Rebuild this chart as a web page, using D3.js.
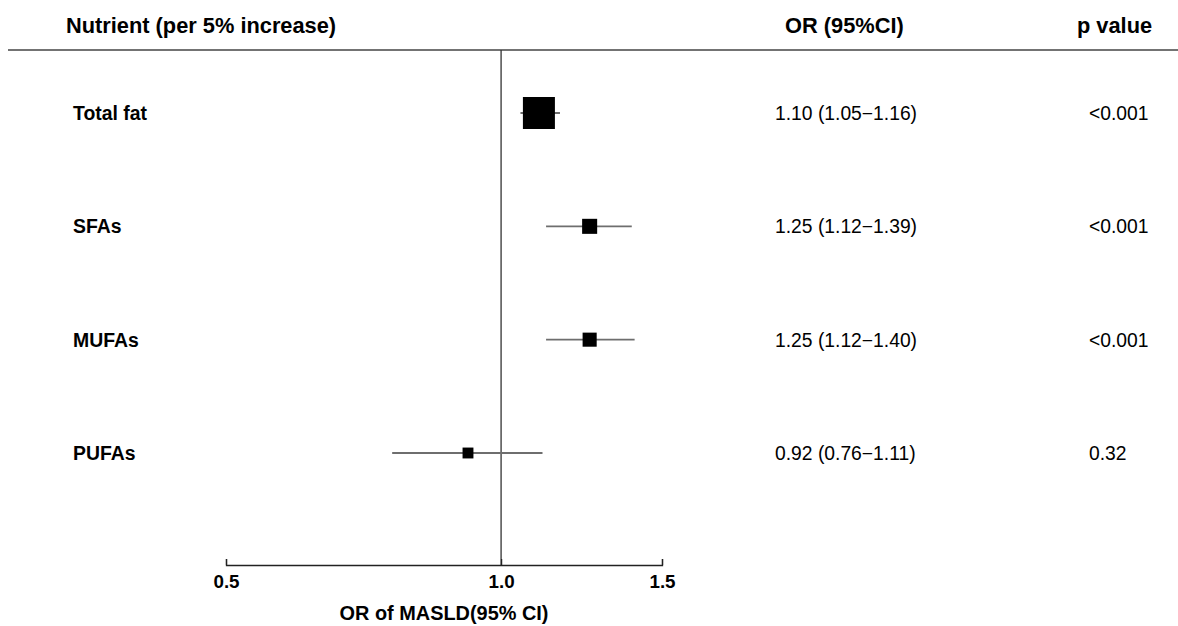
<!DOCTYPE html>
<html>
<head>
<meta charset="utf-8">
<script src="https://cdn.jsdelivr.net/npm/d3@7/dist/d3.min.js"></script>
<style>
  html, body { margin: 0; padding: 0; background: #fff; }
  svg { display: block; font-family: "Liberation Sans", Arial, sans-serif; }
</style>
</head>
<body>
<svg id="chart" width="1178" height="626"></svg>
<script>
// ---- data ----
const categories = ["Total fat", "SFAs", "MUFAs", "PUFAs"];
const orValues   = [1.10, 1.25, 1.25, 0.92];
const ciLower    = [1.05, 1.12, 1.12, 0.76];
const ciUpper    = [1.16, 1.39, 1.40, 1.11];
const orLabels   = ["1.10 (1.05\u22121.16)", "1.25 (1.12\u22121.39)", "1.25 (1.12\u22121.40)", "0.92 (0.76\u22121.11)"];
const pLabels    = ["<0.001", "<0.001", "<0.001", "0.32"];
const boxWeight  = [1.0, 0.47, 0.44, 0.34];
const tickValues = [0.5, 1.0, 1.5];
const headers    = ["Nutrient (per 5% increase)", "OR (95%CI)", "p value"];
const axisTitle  = "OR of MASLD(95% CI)";

// ---- layout ----
const W = 1178, H = 626;
const svg = d3.select("#chart");
const headerLineY = 50, axisY = 565;

const x = d3.scaleLog().domain([0.5, 1.5]).range([226, 662]);
const y = d3.scalePoint().domain(categories).range([113, 453]);
const boxSize = d3.scaleLinear().domain([0, 1]).range([0, 32]);

// header texts
const hdr = svg.append("g").attr("font-weight", "bold").attr("font-size", 21.8).attr("fill", "#000");
hdr.append("text").attr("x", 66).attr("y", 33).text(headers[0]);
hdr.append("text").attr("x", 785).attr("y", 33).text(headers[1]);
hdr.append("text").attr("x", 1077).attr("y", 33).text(headers[2]);

// header line
svg.append("line")
  .attr("x1", 8).attr("x2", W)
  .attr("y1", headerLineY).attr("y2", headerLineY)
  .attr("stroke", "#444").attr("stroke-width", 1.5);

// reference line at OR = 1
svg.append("line")
  .attr("x1", x(1)).attr("x2", x(1))
  .attr("y1", headerLineY).attr("y2", axisY)
  .attr("stroke", "#333").attr("stroke-width", 1.3);

// rows
const rows = svg.append("g").selectAll("g.row")
  .data(categories.map((c, i) => ({c, i})))
  .join("g").attr("class", "row");

rows.append("text")
  .attr("x", 73).attr("y", d => y(d.c) + 7)
  .attr("font-weight", "bold").attr("font-size", 19.4)
  .text(d => d.c);

rows.append("line")
  .attr("x1", d => x(ciLower[d.i])).attr("x2", d => x(ciUpper[d.i]))
  .attr("y1", d => y(d.c)).attr("y2", d => y(d.c))
  .attr("stroke", "#6e6e6e").attr("stroke-width", 1.8);

rows.append("rect")
  .attr("x", d => x(orValues[d.i]) - boxSize(boxWeight[d.i]) / 2)
  .attr("y", d => y(d.c) - boxSize(boxWeight[d.i]) / 2)
  .attr("width", d => boxSize(boxWeight[d.i]))
  .attr("height", d => boxSize(boxWeight[d.i]))
  .attr("fill", "#000");

rows.append("text")
  .attr("x", 775).attr("y", d => y(d.c) + 7)
  .attr("font-size", 19.3)
  .text(d => orLabels[d.i]);

rows.append("text")
  .attr("x", 1089).attr("y", d => y(d.c) + 7)
  .attr("font-size", 19.3)
  .text(d => pLabels[d.i]);

// axis
const axis = d3.axisBottom(x)
  .tickValues(tickValues)
  .tickFormat(d3.format(".1f"))
  .tickSize(-6)
  .tickPadding(10);

const ax = svg.append("g").attr("transform", `translate(0,${axisY})`).call(axis);
ax.select(".domain").attr("stroke", "#222").attr("stroke-width", 1.3);
ax.selectAll(".tick line").attr("stroke", "#222").attr("stroke-width", 1.3);
ax.selectAll(".tick text")
  .attr("font-family", "\"Liberation Sans\", Arial, sans-serif")
  .attr("font-size", 18.8).attr("font-weight", "bold").attr("fill", "#000");

svg.append("text")
  .attr("x", (x(0.5) + x(1.5)) / 2).attr("y", 620)
  .attr("text-anchor", "middle")
  .attr("font-weight", "bold").attr("font-size", 19.9)
  .text(axisTitle);
</script>
</body>
</html>
